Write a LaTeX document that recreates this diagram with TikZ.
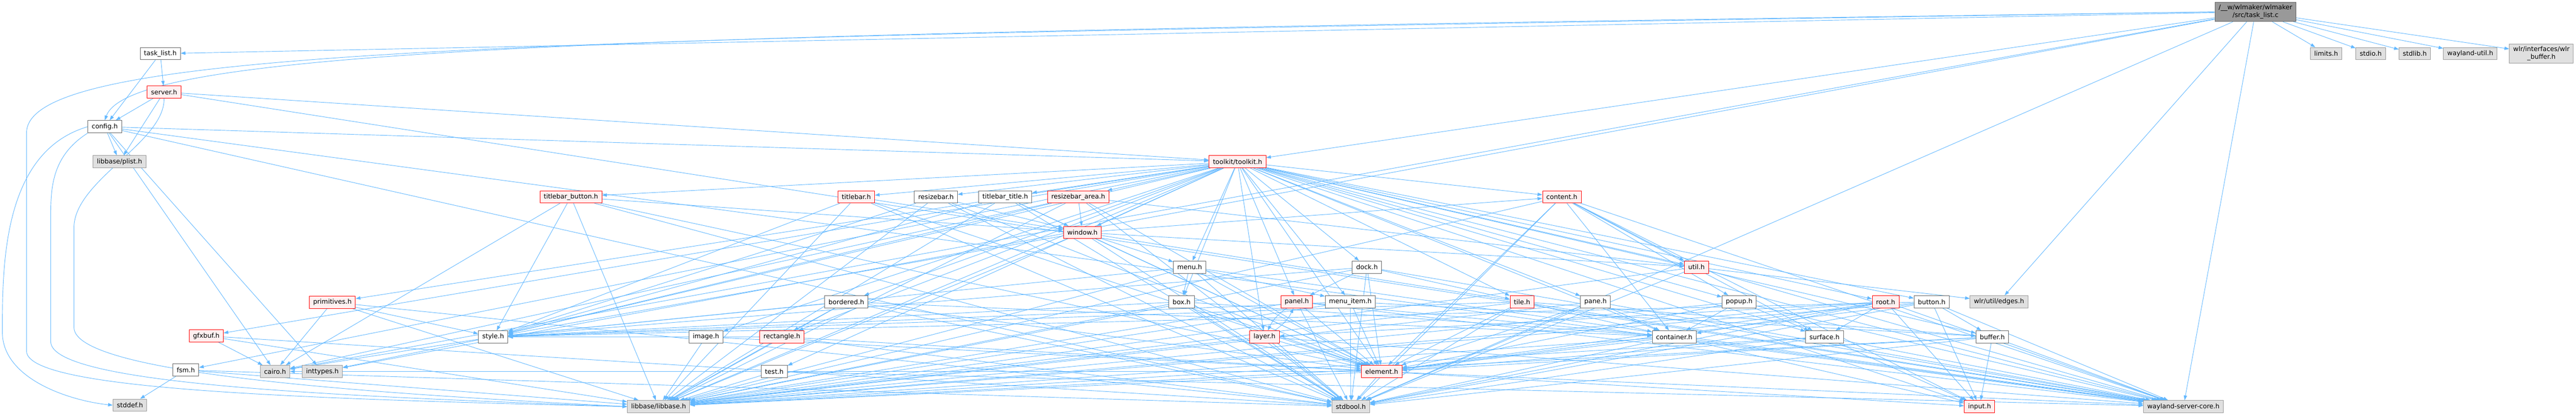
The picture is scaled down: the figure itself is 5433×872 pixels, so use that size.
\documentclass[tikz,border=0pt]{standalone}
\usepackage{fontspec}
\setmainfont{DejaVu Sans}
\usetikzlibrary{arrows.meta}

\pgfdeclarelayer{edges}
\pgfsetlayers{edges,main}

\definecolor{depblue}{HTML}{63B8FF}
\definecolor{sysfill}{HTML}{E0E0E0}
\definecolor{sysdraw}{HTML}{999999}
\definecolor{hdrdraw}{HTML}{666666}
\definecolor{truncfill}{HTML}{FFF0F0}
\definecolor{truncdraw}{HTML}{FF0000}
\definecolor{srcfill}{HTML}{999999}

\tikzset{hdr/.style = {draw=hdrdraw, fill=white, line width=1bp,
                       minimum height=26bp, inner xsep=8bp, inner ysep=1bp,
                       font=\fontsize{13.75}{16}\selectfont},
         syshdr/.style = {hdr, draw=sysdraw, fill=sysfill},
         trunchdr/.style = {hdr, draw=truncdraw, fill=truncfill},
         srcfile/.style = {hdr, fill=srcfill, align=center, minimum height=41bp},
         dep/.style = {depblue, line width=1bp, -{Triangle[length=10bp,width=7bp]}}
        }

\begin{document}
\begin{tikzpicture}[x=1bp, y=1bp]

\def\deps#1#2{\foreach \dst in {#2} {\draw[dep] (#1) -- (\dst);}}

\useasboundingbox (0,0) rectangle (5433,-872);

% the source file
\node[srcfile] (taskc) at (4757,-25) {/\_\_w/wlmaker/wlmaker\\/src/task\_list.c};

% headers of wlmaker
\node[hdr]      (tasklist) at ( 338,-113) {task\_list.h};
\node[trunchdr] (server)   at ( 346,-194) {server.h};
\node[hdr]      (config)   at ( 221,-267) {config.h};

% headers of the toolkit
\node[trunchdr] (toolkit)    at (2610,-341) {toolkit/toolkit.h};
\node[trunchdr] (tbbutton)   at (1204,-415) {titlebar\_button.h};
\node[trunchdr] (titlebar)   at (1806,-415) {titlebar.h};
\node[hdr]      (resizebar)  at (1974,-415) {resizebar.h};
\node[hdr]      (tbtitle)    at (2120,-415) {titlebar\_title.h};
\node[trunchdr] (resizearea) at (2274,-415) {resizebar\_area.h};
\node[trunchdr] (content)    at (3294,-415) {content.h};
\node[trunchdr] (window)     at (2283,-490) {window.h};
\node[hdr]      (menu)       at (2509,-563) {menu.h};
\node[hdr]      (dock)       at (2883,-563) {dock.h};
\node[trunchdr] (util)       at (3578,-563) {util.h};
\node[trunchdr] (primitives) at ( 701,-637) {primitives.h};
\node[hdr]      (bordered)   at (1785,-636) {bordered.h};
\node[hdr]      (box)        at (2492,-636) {box.h};
\node[trunchdr] (panel)      at (2735,-636) {panel.h};
\node[hdr]      (menuitem)   at (2848,-636) {menu\_item.h};
\node[trunchdr] (tile)       at (3210,-636) {tile.h};
\node[hdr]      (pane)       at (3365,-636) {pane.h};
\node[hdr]      (popup)      at (3668,-636) {popup.h};
\node[trunchdr] (rooth)      at (3977,-636) {root.h};
\node[hdr]      (button)     at (4074,-636) {button.h};
\node[trunchdr] (gfxbuf)     at ( 435,-708) {gfxbuf.h};
\node[hdr]      (style)      at (1040,-710) {style.h};
\node[hdr]      (image)      at (1489,-710) {image.h};
\node[trunchdr] (rectangle)  at (1649,-710) {rectangle.h};
\node[trunchdr] (layer)      at (2667,-710) {layer.h};
\node[hdr]      (container)  at (3531,-710) {container.h};
\node[hdr]      (surface)    at (3848,-710) {surface.h};
\node[hdr]      (buffer)     at (4202,-710) {buffer.h};
\node[hdr]      (fsm)        at ( 392,-780) {fsm.h};
\node[hdr]      (test)       at (1633,-783) {test.h};
\node[trunchdr] (element)    at (2914,-783) {element.h};
\node[trunchdr] (input)      at (4175,-857) {input.h};

% system and library headers
\node[syshdr] (plist)    at ( 252,-341) {libbase/plist.h};
\node[syshdr] (cairo)    at ( 580,-783) {cairo.h};
\node[syshdr] (inttypes) at ( 680,-783) {inttypes.h};
\node[syshdr] (stddef)   at ( 274,-854) {stddef.h};
\node[syshdr] (libbase)  at (1389,-857) {libbase/libbase.h};
\node[syshdr] (stdbool)  at (2849,-857) {stdbool.h};
\node[syshdr] (edges)    at (4216,-636) {wlr/util/edges.h};
\node[syshdr] (wsc)      at (4605,-857) {wayland-server-core.h};
\node[syshdr] (limits)   at (4906,-113) {limits.h};
\node[syshdr] (stdio)    at (5000,-113) {stdio.h};
\node[syshdr] (stdlib)   at (5093,-113) {stdlib.h};
\node[syshdr] (wutil)    at (5210,-113) {wayland-util.h};
\node[syshdr, align=center, minimum height=41bp] (wlrbuf) at (5360,-113)
    {wlr/interfaces/wlr\\\_buffer.h};

% include edges
\begin{pgfonlayer}{edges}
\deps{taskc}{tasklist,toolkit,cairo,inttypes,stdbool,edges,wsc,limits,stdio,stdlib,wutil,wlrbuf}
\deps{tasklist}{server,config}
\deps{server}{config,plist,toolkit,wsc}
\deps{config}{plist,cairo,inttypes,stdbool,toolkit,wsc}
\deps{toolkit}{tbbutton,titlebar,resizebar,tbtitle,resizearea,window,content,primitives,gfxbuf,fsm,style,image,bordered,rectangle,test,menu,box,dock,panel,menuitem,layer,element,tile,pane,util,popup,rooth,button,container,surface,buffer,input,libbase,wsc}
\deps{gfxbuf}{cairo,libbase,stdbool}
\deps{fsm}{stddef,libbase,stdbool}
\deps{primitives}{cairo,style,libbase,stdbool}
\deps{style}{cairo,inttypes}
\deps{tbbutton}{style,window,element,cairo,libbase,stdbool}
\deps{titlebar}{window,style,element,libbase,stdbool}
\deps{resizebar}{window,style,element,libbase,stdbool}
\deps{tbtitle}{window,style,element,libbase,stdbool}
\deps{resizearea}{window,style,element,cairo,edges,libbase,stdbool}
\deps{window}{content,menu,util,element,style,libbase,stdbool,wsc}
\deps{content}{container,element,util,surface,popup,input,libbase,stdbool,wsc}
\deps{menu}{box,menuitem,element,style,libbase,stdbool,wsc}
\deps{dock}{panel,tile,element,style,libbase,stdbool,wsc}
\deps{util}{libbase,stdbool,wsc}
\deps{bordered}{rectangle,container,element,style,libbase,stdbool}
\deps{box}{container,element,style,libbase,stdbool}
\deps{panel}{container,element,libbase,stdbool,wsc}
\deps{menuitem}{buffer,element,style,libbase,stdbool}
\deps{tile}{container,buffer,element,style,libbase,stdbool}
\deps{pane}{container,element,libbase,stdbool,wsc}
\deps{popup}{container,surface,element,libbase,wsc}
\deps{rooth}{surface,container,layer,input,element,libbase,stdbool,wsc}
\deps{button}{buffer,input,element,style,libbase,stdbool,wsc}
\deps{image}{element,style,libbase}
\deps{rectangle}{element,style,libbase,stdbool}
\deps{layer}{element,libbase,stdbool,wsc}
\deps{container}{element,input,libbase,stdbool,wsc}
\deps{surface}{element,input,libbase,stdbool,wsc}
\deps{buffer}{element,input,libbase,stdbool,wsc}
\deps{test}{libbase,wsc}
\deps{element}{input,cairo,libbase,stdbool,wsc}
\draw[dep] (panel) to[bend right=15] (layer);
\draw[dep] (layer) to[bend right=15] (panel);

% edges round the left side
\draw[dep] (taskc.west)
    .. controls (1500,-70) and (280,-90) .. (config.north);
\draw[dep] (taskc.west)
    .. controls (1200,-80) and (56,-90) .. (56,-280) -- (56,-740)
    .. controls (56,-820) and (600,-840) .. (libbase.west);
\draw[dep] (config.west)
    .. controls (5,-320) and (5,-560) .. (5,-700)
    .. controls (5,-800) and (150,-845) .. (stddef.west);
\draw[dep] (config.south west)
    .. controls (107,-330) and (107,-400) .. (107,-460) -- (107,-720)
    .. controls (107,-810) and (700,-835) .. (libbase.west);
\draw[dep] (server.south)
    .. controls (348,-300) and (156,-380) .. (156,-480) -- (156,-690)
    .. controls (156,-790) and (800,-830) .. (libbase.west);
\end{pgfonlayer}

\end{tikzpicture}
\end{document}
